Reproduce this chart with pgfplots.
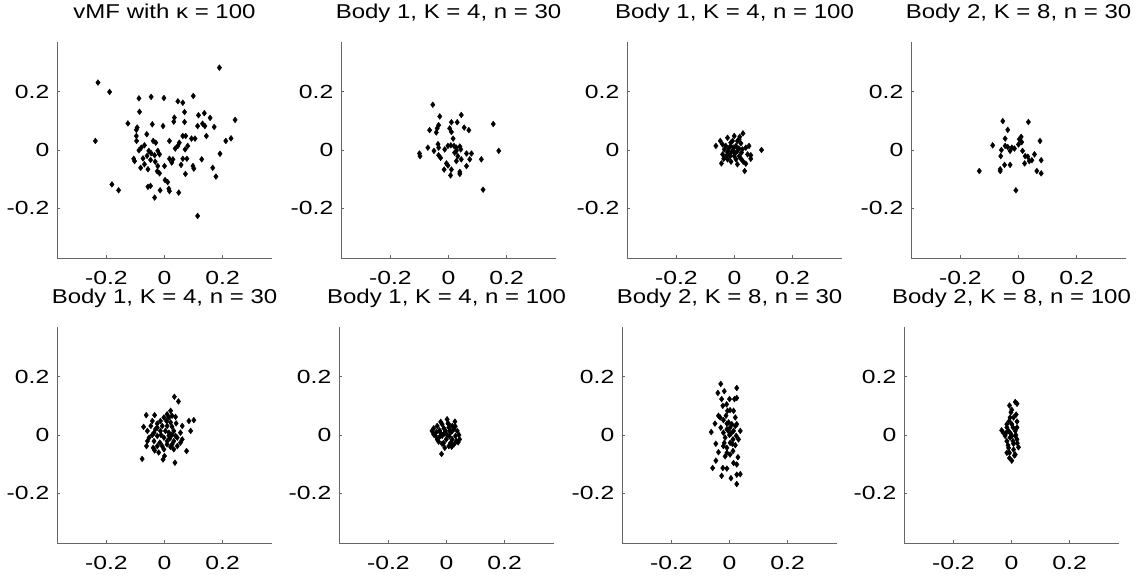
\documentclass[border=0pt]{standalone}
\usepackage{fontspec}
\setmainfont{Liberation Sans}
\newfontfamily\titlefont{Liberation Sans}[FakeStretch=1.2]
\newfontfamily\tickfont{Liberation Sans}[FakeStretch=1.3]
\usepackage{pgfplots}
\pgfplotsset{compat=1.18}
\pgfplotsset{
  panel/.style={
    width=215bp, height=216bp, scale only axis,
    anchor=south west,
    xmin=-0.37, xmax=0.37, ymin=-0.37, ymax=0.37,
    axis x line*=bottom, axis y line*=left,
    axis line style={-, draw=black!60, line width=0.7bp},
    xtick={-0.2,0,0.2}, ytick={-0.2,0,0.2},
    xticklabels={-0.2,0,0.2}, yticklabels={-0.2,0,0.2},
    tick align=inside, major tick length=3bp,
    tick style={draw=black!60, line width=0.6bp},
    title style={font=\titlefont\fontsize{20bp}{24bp}\selectfont, at={(0.5,1)}, anchor=base, yshift=18bp, inner sep=0pt, text height=14bp, text depth=0pt},
    x tick label style={font=\tickfont\fontsize{19bp}{22bp}\selectfont, anchor=base, inner sep=0pt, yshift=-26.5bp, text height=14bp, text depth=0pt},
    y tick label style={font=\tickfont\fontsize{19bp}{22bp}\selectfont, anchor=east, inner sep=0pt, xshift=-7.5bp},
  },
  pts/.style={only marks, mark=diamond*, mark size=2.9bp, black, mark options={draw=black, fill=black, line width=0.4bp}},
}
\begin{document}
\begin{tikzpicture}
\useasboundingbox (0,0) rectangle (1139bp,578bp);
% Panel 1
\begin{axis}[panel, at={(57bp,320bp)}, title={vMF with κ = 100}]
\addplot[pts] coordinates {
(-0.229,0.231) (-0.189,0.199) (-0.238,0.031) (0.189,0.282) (-0.088,0.177) (-0.046,0.182)
(-0.002,0.178) (0.046,0.167) (0.063,0.162) (0.099,0.185) (-0.086,0.131) (0.034,0.111)
(0.069,0.130) (0.117,0.119) (0.137,0.126) (0.157,0.110) (0.243,0.103) (-0.126,0.091)
(-0.094,0.077) (-0.097,0.069) (-0.042,0.088) (-0.005,0.082) (0.032,0.097) (0.069,0.096)
(0.114,0.082) (0.131,0.090) (0.139,0.082) (0.171,0.079) (-0.097,0.048) (-0.061,0.054)
(0.063,0.048) (0.073,0.048) (0.105,0.039) (0.144,0.048) (-0.096,0.031) (-0.039,0.031)
(-0.030,0.025) (0.017,0.031) (0.051,0.025) (0.093,0.039) (0.211,0.031) (0.229,0.040)
(-0.069,0.016) (-0.080,0.008) (-0.088,-0.001) (-0.054,-0.003) (-0.023,-0.003) (0.046,0.014)
(0.080,0.014) (0.191,-0.013) (-0.046,-0.011) (-0.034,-0.018) (-0.017,-0.015) (-0.106,-0.030)
(-0.103,-0.038) (-0.074,-0.029) (-0.048,-0.034) (0.017,-0.030) (0.029,-0.032) (0.063,-0.030)
(0.077,-0.030) (0.128,-0.032) (-0.069,-0.049) (-0.082,-0.061) (-0.057,-0.066) (-0.032,-0.040)
(-0.023,-0.055) (0.000,-0.055) (0.025,-0.043) (0.057,-0.051) (0.098,-0.055) (0.101,-0.064)
(0.166,-0.061) (-0.025,-0.073) (-0.017,-0.080) (0.072,-0.082) (0.177,-0.091) (0.002,-0.103)
(0.011,-0.110) (-0.057,-0.126) (-0.048,-0.123) (-0.181,-0.118) (-0.158,-0.138) (-0.015,-0.138)
(0.015,-0.133) (0.017,-0.141) (0.049,-0.146) (-0.034,-0.163) (0.114,-0.226) (0.037,0.005)
(0.071,0.002) (-0.060,-0.020)
};
\end{axis}
% Panel 2
\begin{axis}[panel, at={(341bp,320bp)}, title={Body 1, K = 4, n = 30}]
\addplot[pts] coordinates {
(-0.054,0.155) (-0.030,0.115) (0.044,0.120) (0.154,0.089) (-0.034,0.085) (-0.039,0.074)
(-0.065,0.068) (-0.042,0.060) (0.004,0.074) (0.010,0.062) (0.010,0.095) (0.030,0.095)
(0.054,0.077) (0.070,0.068) (0.016,0.039) (-0.036,0.020) (-0.071,0.008) (-0.050,-0.003)
(-0.034,0.008) (-0.002,0.014) (0.008,0.016) (0.019,0.014) (0.027,0.008) (0.039,0.012)
(0.042,0.002) (-0.013,0.002) (-0.100,-0.012) (-0.098,-0.021) (-0.034,-0.018) (-0.027,-0.027)
(0.021,-0.009) (0.032,-0.021) (0.062,-0.012) (0.079,-0.012) (0.173,-0.003) (0.027,-0.038)
(0.044,-0.032) (0.073,-0.032) (0.113,-0.032) (-0.007,-0.046) (-0.002,-0.053) (0.062,-0.055)
(-0.015,-0.067) (0.010,-0.067) (0.039,-0.075) (0.039,-0.082) (0.007,-0.087) (0.119,-0.136)
(0.027,-0.003)
};
\end{axis}
% Panel 3
\begin{axis}[panel, at={(627bp,320bp)}, title={Body 1, K = 4, n = 100}]
\addplot[pts] coordinates {
(0.029,0.057) (-0.001,0.048) (-0.024,0.042) (-0.049,0.031) (-0.064,0.014) (0.016,0.037)
(-0.013,0.025) (0.022,0.023) (0.050,0.014) (0.093,0.000) (-0.035,0.002) (-0.024,-0.007)
(-0.003,0.008) (0.010,-0.003) (0.027,0.002) (0.045,-0.015) (0.056,-0.018) (-0.015,-0.021)
(-0.001,-0.021) (-0.037,-0.030) (-0.045,-0.046) (0.010,-0.049) (0.039,-0.047) (0.035,-0.072)
(0.022,-0.030) (-0.013,0.014) (-0.030,0.014) (0.005,0.014) (-0.010,-0.007) (-0.024,-0.032)
(0.016,-0.021) (-0.018,-0.011) (-0.041,-0.015) (0.039,0.008) (0.056,-0.030) (0.005,-0.032)
(0.010,0.031) (-0.007,0.031) (-0.041,0.019) (0.024,-0.009) (-0.005,0.000) (0.002,-0.012)
(-0.020,0.005) (0.015,0.005) (-0.028,-0.020) (0.030,-0.040) (-0.012,-0.040) (0.018,0.045)
};
\end{axis}
% Panel 4
\begin{axis}[panel, at={(911bp,320bp)}, title={Body 2, K = 8, n = 30}]
\addplot[pts] coordinates {
(-0.054,0.099) (0.034,0.096) (-0.037,0.069) (-0.046,0.039) (0.009,0.045) (0.003,0.037)
(0.011,0.027) (0.000,0.019) (0.074,0.031) (-0.089,0.016) (-0.046,0.014) (-0.037,0.010)
(-0.023,0.008) (-0.029,-0.003) (-0.014,0.005) (-0.059,0.000) (0.014,-0.003) (-0.061,-0.021)
(0.023,-0.021) (0.032,-0.023) (0.055,-0.015) (0.046,-0.035) (0.037,-0.038) (0.078,-0.035)
(0.021,-0.046) (-0.048,-0.051) (-0.029,-0.051) (-0.063,-0.066) (-0.063,-0.072) (-0.135,-0.072)
(0.063,-0.072) (0.078,-0.080) (-0.009,-0.138)
};
\end{axis}
% Panel 5
\begin{axis}[panel, at={(57bp,35bp)}, title={Body 1, K = 4, n = 30}]
\addplot[pts] coordinates {
(0.034,0.131) (0.048,0.115) (-0.063,0.068) (-0.034,0.068) (0.021,0.083) (0.009,0.071)
(-0.002,0.060) (0.026,0.066) (0.038,0.062) (-0.014,0.048) (-0.025,0.039) (0.084,0.048)
(0.101,0.051) (-0.072,0.028) (-0.047,0.031) (-0.025,0.025) (0.009,0.031) (0.026,0.028)
(0.061,0.031) (0.090,0.014) (-0.059,0.014) (-0.036,0.008) (-0.014,0.014) (0.003,0.014)
(0.032,0.014) (0.055,0.008) (-0.053,-0.009) (-0.025,-0.003) (-0.002,-0.009) (0.015,-0.003)
(0.044,-0.009) (0.061,-0.015) (-0.059,-0.021) (-0.036,-0.021) (-0.016,-0.026) (0.009,-0.021)
(0.032,-0.021) (0.055,-0.026) (-0.062,-0.038) (-0.039,-0.044) (-0.008,-0.038) (0.021,-0.041)
(0.044,-0.038) (0.076,-0.055) (-0.034,-0.053) (-0.002,-0.049) (0.032,-0.049) (-0.077,-0.082)
(0.000,-0.072) (-0.005,-0.084) (0.036,-0.095) (-0.042,0.048) (0.007,0.048) (0.015,0.060)
(0.021,0.043) (-0.008,0.031) (-0.031,0.020) (0.015,0.008) (0.038,-0.003) (-0.042,0.000)
(0.026,-0.032) (-0.025,-0.038) (0.009,-0.032) (-0.012,0.000) (0.025,0.000) (0.040,0.040)
(-0.020,-0.060) (0.018,-0.012)
};
\end{axis}
% Panel 6
\begin{axis}[panel, at={(339bp,35bp)}, title={Body 1, K = 4, n = 100}]
\addplot[pts] coordinates {
(0.002,0.054) (0.029,0.046) (-0.017,-0.065) (-0.044,0.023) (-0.050,0.014) (-0.032,0.031)
(-0.015,0.037) (0.008,0.037) (0.020,0.031) (0.037,0.014) (0.045,-0.015) (0.026,-0.032)
(0.008,-0.038) (-0.015,-0.030) (-0.032,-0.015) (-0.038,-0.003) (-0.021,0.008) (-0.003,0.014)
(0.014,0.008) (0.031,-0.003) (0.020,-0.015) (-0.001,-0.015) (-0.015,-0.003) (0.002,0.000)
(-0.009,0.023) (0.020,0.014) (0.043,0.000) (-0.027,-0.023) (0.014,-0.027) (-0.006,-0.044)
(-0.044,0.002) (0.034,-0.021) (0.008,0.026) (-0.024,0.016) (0.010,-0.005) (-0.008,0.005)
(0.025,0.020) (-0.025,-0.008) (0.018,-0.040) (-0.010,-0.028) (0.030,0.030) (-0.035,0.010)
(0.005,0.040) (0.040,-0.025) (-0.020,0.045) (0.012,0.015)
};
\end{axis}
% Panel 7
\begin{axis}[panel, at={(622bp,35bp)}, title={Body 2, K = 8, n = 30}]
\addplot[pts] coordinates {
(-0.030,0.175) (0.025,0.161) (-0.040,0.144) (-0.018,0.150) (-0.027,0.123) (0.000,0.123)
(0.017,0.123) (0.025,0.127) (-0.023,0.100) (0.002,0.085) (0.014,0.083) (-0.012,0.066)
(-0.032,0.060) (-0.021,0.051) (0.020,0.060) (-0.050,0.039) (-0.009,0.039) (0.008,0.037)
(0.025,0.037) (0.002,0.025) (-0.009,0.020) (0.014,0.014) (0.037,0.014) (-0.063,0.010)
(-0.021,0.008) (0.005,0.005) (0.023,-0.003) (-0.015,-0.009) (-0.047,-0.030) (-0.018,-0.027)
(0.002,-0.027) (0.020,-0.035) (0.031,-0.015) (-0.009,-0.044) (-0.038,-0.059) (-0.015,-0.073)
(0.002,-0.067) (0.029,-0.076) (-0.047,-0.088) (0.014,-0.096) (0.025,-0.101) (-0.058,-0.113)
(-0.023,-0.113) (-0.009,-0.115) (-0.027,-0.140) (0.005,-0.148) (0.025,-0.136) (0.037,-0.134)
(0.025,-0.168) (-0.009,-0.061) (0.012,-0.055) (-0.007,0.083) (-0.030,0.025) (0.012,-0.015)
(-0.003,0.043) (0.020,0.031) (-0.038,0.066) (-0.021,-0.038) (0.000,0.000) (-0.005,0.015)
(0.010,-0.030) (-0.010,0.105)
};
\end{axis}
% Panel 8
\begin{axis}[panel, at={(904bp,35bp)}, title={Body 2, K = 8, n = 100}]
\addplot[pts] coordinates {
(0.013,0.113) (-0.007,0.101) (0.001,0.086) (0.019,0.107) (0.007,0.060) (0.019,0.046)
(-0.016,0.037) (0.001,0.037) (-0.034,0.016) (-0.010,0.014) (0.013,0.014) (-0.022,-0.003)
(0.001,-0.003) (0.019,-0.015) (-0.016,-0.021) (0.007,-0.030) (0.024,-0.042) (-0.010,-0.044)
(-0.016,-0.061) (0.013,-0.067) (-0.007,-0.079) (0.001,-0.088) (-0.005,0.060) (-0.016,0.026)
(-0.005,-0.009) (0.013,-0.003) (-0.018,0.008) (0.005,0.026) (0.007,-0.050) (-0.007,-0.061)
(0.019,0.026) (-0.028,0.008) (0.005,-0.021) (-0.002,0.078) (-0.008,0.048) (0.010,-0.070)
(0.015,0.000) (-0.012,-0.035) (0.016,0.070) (-0.003,0.005) (0.020,-0.028)
};
\end{axis}
\end{tikzpicture}
\end{document}
